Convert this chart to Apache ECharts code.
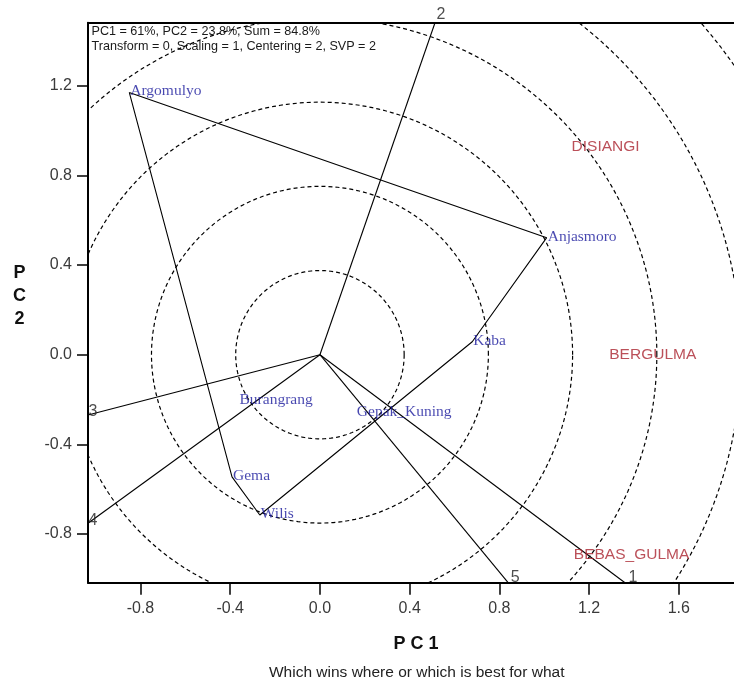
<!DOCTYPE html>
<html>
<head>
<meta charset="utf-8">
<script src="https://cdn.jsdelivr.net/npm/echarts@6/dist/echarts.min.js"></script>
<style>
html,body{margin:0;padding:0;background:#fff;overflow:hidden;}
#chart{width:734px;height:684px;}
</style>
</head>
<body>
<div id="chart"></div>
<script>
// ---- data ----
const genotypes = ['Argomulyo','Anjasmoro','Kaba','Burangrang','Gepak_Kuning','Gema','Wilis'];
const genoPC1 = [-0.850, 1.011, 0.679, -0.363, 0.160, -0.392, -0.268];
const genoPC2 = [1.170, 0.522, 0.058, -0.204, -0.260, -0.545, -0.715];

const environments = ['DISIANGI','BERGULMA','BEBAS_GULMA'];
const envPC1 = [1.122, 1.290, 1.132];
const envPC2 = [0.928, 0.000, -0.890];

const polygonOrder = ['Argomulyo','Anjasmoro','Kaba','Wilis','Gema','Argomulyo'];

const rayLabels = ['1','2','3','4','5'];
const rayEndPC1 = [1.360, 0.513, -1.034, -1.034, 0.839];
const rayEndPC2 = [-1.017, 1.481, -0.269, -0.752, -1.017];

const circleRadii = [0.3755, 0.751, 1.1265, 1.502, 1.8775, 2.253];

const xTicks = [-0.8, -0.4, 0.0, 0.4, 0.8, 1.2, 1.6];
const yTicks = [-0.8, -0.4, 0.0, 0.4, 0.8, 1.2];

const infoLines = ['PC1 = 61%, PC2 = 23.8%, Sum = 84.8%', 'Transform = 0, Scaling = 1, Centering = 2, SVP = 2'];
const xName = 'P C 1';
const yNameChars = ['P','C','2'];
const subtitle = 'Which wins where or which is best for what';

// ---- build option ----
const X_MIN = -1.034, X_MAX = 1.846, Y_MIN = -1.017, Y_MAX = 1.481;

const rayLabelOffset = {'1':[8,-5],'2':[6,-8],'3':[5,-3],'4':[5,-3],'5':[7,-5]};

const series = [];

// dashed concentric circles
circleRadii.forEach(r => {
  const pts = [];
  for (let a = 0; a <= 360; a += 1.5) {
    const t = a * Math.PI / 180;
    pts.push([r * Math.cos(t), r * Math.sin(t)]);
  }
  series.push({
    type: 'line', data: pts, symbol: 'none', silent: true, clip: true,
    lineStyle: {color: '#000', width: 1.2, type: [4, 3]}, z: 1
  });
});

// polygon
const gIndex = name => genotypes.indexOf(name);
series.push({
  type: 'line', symbol: 'none', silent: true,
  data: polygonOrder.map(n => [genoPC1[gIndex(n)], genoPC2[gIndex(n)]]),
  lineStyle: {color: '#000', width: 1.1}, z: 2
});

// rays
rayLabels.forEach((lab, i) => {
  series.push({
    type: 'line', symbol: 'none', silent: true,
    data: [[0, 0], [rayEndPC1[i], rayEndPC2[i]]],
    lineStyle: {color: '#000', width: 1.1}, z: 2
  });
});

// ray labels
series.push({
  type: 'scatter', symbolSize: 0, clip: false, silent: true,
  data: rayLabels.map((lab, i) => ({
    value: [rayEndPC1[i], rayEndPC2[i]], name: lab,
    label: {offset: rayLabelOffset[lab]}
  })),
  label: {show: true, position: [0, 0], align: 'center', verticalAlign: 'middle',
    formatter: p => p.name, fontFamily: 'Liberation Sans, Arial', fontSize: 16, color: '#222'},
  z: 5
});

// genotype labels
series.push({
  type: 'scatter', symbolSize: 0, clip: false, silent: true,
  data: genotypes.map((g, i) => ({value: [genoPC1[i], genoPC2[i]], name: g})),
  label: {show: true, position: [0, 0], align: 'left', verticalAlign: 'middle', offset: [1, -1],
    formatter: p => p.name, fontFamily: 'Liberation Serif, Times New Roman, serif', fontSize: 15.5, color: '#1a1a9c'},
  z: 5
});

// environment labels
series.push({
  type: 'scatter', symbolSize: 0, clip: false, silent: true,
  data: environments.map((e, i) => ({value: [envPC1[i], envPC2[i]], name: e})),
  label: {show: true, position: [0, 0], align: 'left', verticalAlign: 'middle',
    formatter: p => p.name, fontFamily: 'Liberation Sans, Arial', fontSize: 15.5, color: '#aa2430'},
  z: 5
});

const graphics = [];
infoLines.forEach((t, i) => {
  graphics.push({type: 'text', x: 91.5, y: 31.7 + i * 15,
    style: {text: t, font: '12.6px "Liberation Sans", Arial', fill: '#1a1a1a', align: 'left', verticalAlign: 'middle'}});
});
graphics.push({type: 'text', x: 416, y: 644.5,
  style: {text: xName, font: 'bold 18px "Liberation Sans", Arial', fill: '#111', align: 'center', verticalAlign: 'middle'}});
yNameChars.forEach((c, i) => {
  graphics.push({type: 'text', x: 19.5, y: 273 + i * 23,
    style: {text: c, font: 'bold 18px "Liberation Sans", Arial', fill: '#111', align: 'center', verticalAlign: 'middle'}});
});
graphics.push({type: 'text', x: 416.7, y: 673,
  style: {text: subtitle, font: '15.5px "Liberation Sans", Arial', fill: '#222', align: 'center', verticalAlign: 'middle'}});

const option = {
  animation: false,
  backgroundColor: '#fff',
  grid: {left: 88, right: 0, top: 22.7, bottom: 101.3, containLabel: false},
  xAxis: [{
    type: 'value', min: X_MIN, max: X_MAX, position: 'bottom',
    axisLine: {show: true, onZero: false, lineStyle: {color: '#000', width: 2}},
    axisTick: {show: true, inside: false, length: 12, customValues: xTicks, lineStyle: {color: '#000', width: 1.5}},
    axisLabel: {show: true, customValues: xTicks, formatter: v => v.toFixed(1), margin: 18,
      fontFamily: 'Liberation Sans, Arial', fontSize: 16, color: '#3a3a3a'},
    splitLine: {show: false}
  }, {
    type: 'value', min: X_MIN, max: X_MAX, position: 'top',
    axisLine: {show: true, onZero: false, lineStyle: {color: '#000', width: 2}},
    axisTick: {show: false}, axisLabel: {show: false}, splitLine: {show: false}
  }],
  yAxis: [{
    type: 'value', min: Y_MIN, max: Y_MAX, position: 'left',
    axisLine: {show: true, onZero: false, lineStyle: {color: '#000', width: 2}},
    axisTick: {show: true, inside: false, length: 11, customValues: yTicks, lineStyle: {color: '#000', width: 1.5}},
    axisLabel: {show: true, customValues: yTicks, formatter: v => v.toFixed(1), margin: 16,
      fontFamily: 'Liberation Sans, Arial', fontSize: 16, color: '#3a3a3a'},
    splitLine: {show: false}
  }],
  series: series,
  graphic: graphics
};

const chart = echarts.init(document.getElementById('chart'), null, {renderer: 'canvas'});
chart.setOption(option);
</script>
</body>
</html>
